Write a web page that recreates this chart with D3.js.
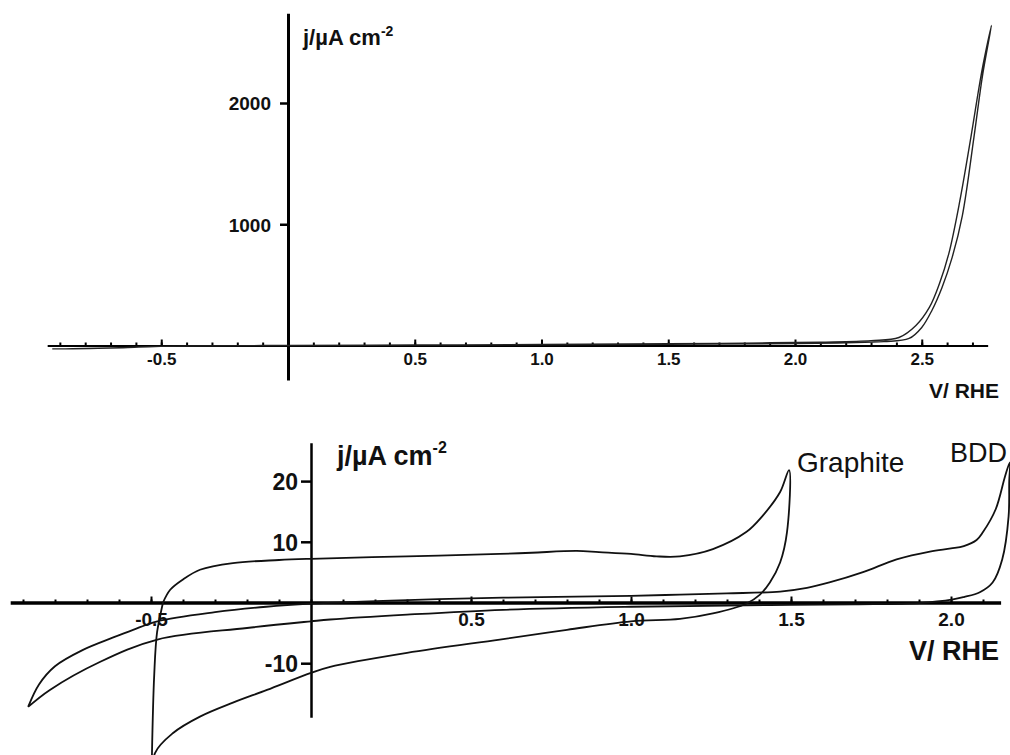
<!DOCTYPE html>
<html>
<head>
<meta charset="utf-8">
<script src="https://cdn.jsdelivr.net/npm/d3@7"></script>
<style>
  html, body { margin: 0; padding: 0; background: #fff; }
  svg { display: block; font-family: "Liberation Sans", Arial, sans-serif; }
</style>
</head>
<body>
<svg id="chart" width="1010" height="755"></svg>
<script>
// ---- data (V vs RHE, j in µA cm-2) ----
// top panel: BDD wide sweep, forward (inner) then return (outer)
const oerFwdV = [-0.93, -0.85, -0.75, -0.65, -0.55, -0.4, 0, 0.5, 1.0, 1.5, 2.0, 2.2, 2.35, 2.45, 2.50, 2.54, 2.58, 2.62, 2.66, 2.706, 2.74, 2.775];
const oerFwdJ = [-28, -27, -24, -18, -9, -3, 0, 3, 6, 10, 16, 22, 32, 58, 149, 289, 479, 727, 1070, 1719, 2230, 2640];
const oerRevV = [2.775, 2.738, 2.694, 2.65, 2.607, 2.57, 2.53, 2.477, 2.41, 2.3, 2.1, 1.8, 1.5, 1.0, 0.5, 0, -0.4, -0.55, -0.7, -0.85, -0.93];
const oerRevJ = [2640, 2273, 1719, 1190, 760, 512, 314, 165, 66, 40, 28, 20, 14, 8, 4, 0, -4, -10, -20, -27, -28];

// bottom panel: graphite CV (anodic then cathodic)
const graphiteV = [-0.4625, -0.44, -0.40, -0.347, -0.244, -0.1, 0, 0.3, 0.59, 0.69, 0.83, 0.9, 1.0, 1.08, 1.153, 1.256, 1.36, 1.41, 1.466, 1.494,
                   1.4875, 1.466, 1.434, 1.403, 1.36, 1.256, 1.153, 1.0, 0.8, 0.59, 0.3, 0.06, 0, -0.1375, -0.244, -0.347, -0.431, -0.4875,
                   -0.495, -0.5, -0.499, -0.497, -0.49, -0.481, -0.4625];
const graphiteJ = [0, 2.1, 3.8, 5.4, 6.5, 7.0, 7.2, 7.6, 8.0, 8.2, 8.5, 8.3, 8.0, 7.6, 7.6, 8.8, 11.6, 14.2, 18.2, 21.8,
                   11.6, 6.6, 3.3, 1.3, -0.2, -1.8, -2.7, -3.1, -4.5, -6.1, -8.3, -10.6, -11.6, -14.4, -16.5, -18.8, -21.5, -24.8,
                   -30, -40, -34, -25, -12, -4.9, 0];

// bottom panel: BDD CV (anodic then cathodic)
const bddV = [-0.884, -0.85, -0.80, -0.7125, -0.62, -0.556, -0.48, -0.3, -0.14, 0, 0.3, 0.6, 1.0, 1.153, 1.3, 1.466, 1.55, 1.62, 1.725, 1.83, 1.934, 2.0, 2.04, 2.08, 2.1, 2.14, 2.169, 2.184,
              2.182, 2.18, 2.16, 2.13, 2.09, 2.04, 2.006, 1.9, 1.7, 1.5, 1.3, 1.0, 0.6, 0.3, 0.06, 0, -0.2, -0.48, -0.66, -0.816, -0.884];
const bddJ = [-17.2, -13.5, -10.5, -7.8, -5.8, -4.5, -3.1, -1.6, -0.7, -0.2, 0.4, 0.8, 1.1, 1.3, 1.5, 1.8, 2.4, 3.3, 5.0, 7.1, 8.4, 8.9, 9.3, 10.3, 11.6, 15.4, 20.8, 23.1,
              20, 14.2, 7.1, 3.3, 1.7, 0.9, 0.5, -0.1, -0.3, -0.4, -0.5, -0.7, -1.2, -2.0, -2.8, -3.1, -4.2, -6.1, -9.8, -14.4, -17.2];

// axes: extents and ticks
const topXExtent = [-0.95, 2.76];
const topYExtent = [-285, 2740];
const topXLabels = [-0.5, 0.5, 1.0, 1.5, 2.0, 2.5];
const topYLabels = [1000, 2000];
const topMinor = [-0.9, 2.7];

const botXExtent = [-0.94, 2.155];
const botYExtent = [-18.9, 26.3];
const botXLabels = [-0.5, 0.5, 1.0, 1.5, 2.0];
const botYLabels = [-10, 10, 20];
const botMinor = [-0.9, 2.1];

const svg = d3.select("#chart");

// 1. Scales (panel origin + pixel per unit)
const xTop = d3.scaleLinear().domain(topXExtent).range(topXExtent.map(v => 288 + v * 253.5));
const yTop = d3.scaleLinear().domain(topYExtent).range(topYExtent.map(j => 345.5 - j * 0.12125));
const xBot = d3.scaleLinear().domain(botXExtent).range(botXExtent.map(v => 311 + v * 320));
const yBot = d3.scaleLinear().domain(botYExtent).range(botYExtent.map(j => 602.5 - j * 6.07));

const minorTicks = ([a, b]) => d3.range(Math.round(a * 10), Math.round(b * 10) + 1).map(i => i / 10);

// 2. Helper to draw one panel's axes
function drawAxes(x, y, o) {
    const g = svg.append("g");

    // x axis: minor ticks up, no labels
    g.append("g")
        .attr("transform", `translate(0,${y(0)})`)
        .call(d3.axisBottom(x).tickValues(minorTicks(o.minor)).tickSize(-3).tickSizeOuter(0).tickFormat(""))
        .call(a => a.select(".domain").attr("stroke-width", o.xw))
        .call(a => a.selectAll(".tick line").attr("stroke-width", 2));

    // x axis: major ticks + labels
    g.append("g")
        .attr("transform", `translate(0,${y(0)})`)
        .call(d3.axisBottom(x).tickValues(o.xLabels).tickSize(-6).tickSizeOuter(0).tickFormat(d => d.toFixed(1)))
        .call(a => a.select(".domain").remove())
        .call(a => a.selectAll(".tick line").attr("stroke-width", 2))
        .call(a => a.selectAll(".tick text")
            .attr("y", o.xLabelY).attr("dy", 0)
            .attr("font-size", o.xFont).attr("font-weight", "bold").attr("fill", "#111"));

    // y axis
    g.append("g")
        .attr("transform", `translate(${x(0)},0)`)
        .call(d3.axisLeft(y).tickValues(o.yLabels).tickSize(o.yTick).tickSizeOuter(0).tickFormat(d => String(d)))
        .call(a => a.select(".domain").attr("stroke-width", o.yw))
        .call(a => a.selectAll(".tick line").attr("stroke-width", 2.5))
        .call(a => a.selectAll(".tick text")
            .attr("x", -o.yTick - o.yPad).attr("dy", "0.36em")
            .attr("font-size", o.yFont).attr("font-weight", "bold").attr("fill", "#111"));

    // axis titles
    const jt = g.append("text")
        .attr("x", o.jX).attr("y", o.jY)
        .attr("font-size", o.jFont).attr("font-weight", "bold").attr("fill", "#111");
    jt.append("tspan").text("j/µA cm");
    jt.append("tspan").attr("font-size", o.supFont).attr("dy", -o.supRise).text("-2");

    g.append("text")
        .attr("x", 999).attr("y", o.vY)
        .attr("text-anchor", "end")
        .attr("font-size", o.vFont).attr("font-weight", "bold").attr("fill", "#111")
        .text("V/ RHE");

    g.selectAll(".domain").attr("stroke", "#000");
}

// 3. Top panel
drawAxes(xTop, yTop, {
    minor: topMinor, xLabels: topXLabels, yLabels: topYLabels,
    xw: 2, yw: 3, xLabelY: 19, xFont: 17, yTick: 8, yPad: 9, yFont: 19,
    jX: 303, jY: 45, jFont: 22, supFont: 14, supRise: 9, vY: 398, vFont: 21
});

const topLine = d3.line()
    .x(d => xTop(d[0])).y(d => yTop(d[1]))
    .curve(d3.curveCatmullRom.alpha(0.5));

svg.append("path")
    .datum(d3.zip(oerFwdV, oerFwdJ).concat(d3.zip(oerRevV, oerRevJ).slice(1)))
    .attr("d", topLine)
    .attr("fill", "none")
    .attr("stroke", "#222")
    .attr("stroke-width", 1.4);

// 4. Bottom panel
drawAxes(xBot, yBot, {
    minor: botMinor, xLabels: botXLabels, yLabels: botYLabels,
    xw: 3.5, yw: 2.5, xLabelY: 23, xFont: 19, yTick: 10, yPad: 3, yFont: 23,
    jX: 337, jY: 465, jFont: 27, supFont: 16, supRise: 12, vY: 660, vFont: 27
});

const botLine = d3.line()
    .x(d => xBot(d[0])).y(d => yBot(d[1]))
    .curve(d3.curveCatmullRom.alpha(0.5));

svg.selectAll(".cv")
    .data([d3.zip(graphiteV, graphiteJ), d3.zip(bddV, bddJ)])
    .join("path")
    .attr("class", "cv")
    .attr("d", botLine)
    .attr("fill", "none")
    .attr("stroke", "#111")
    .attr("stroke-width", 1.8);

// curve labels
svg.append("text")
    .attr("x", 797).attr("y", 472)
    .attr("font-size", 28).attr("fill", "#111")
    .text("Graphite");

svg.append("text")
    .attr("x", 950).attr("y", 462)
    .attr("font-size", 27).attr("fill", "#111")
    .text("BDD");
</script>
</body>
</html>
